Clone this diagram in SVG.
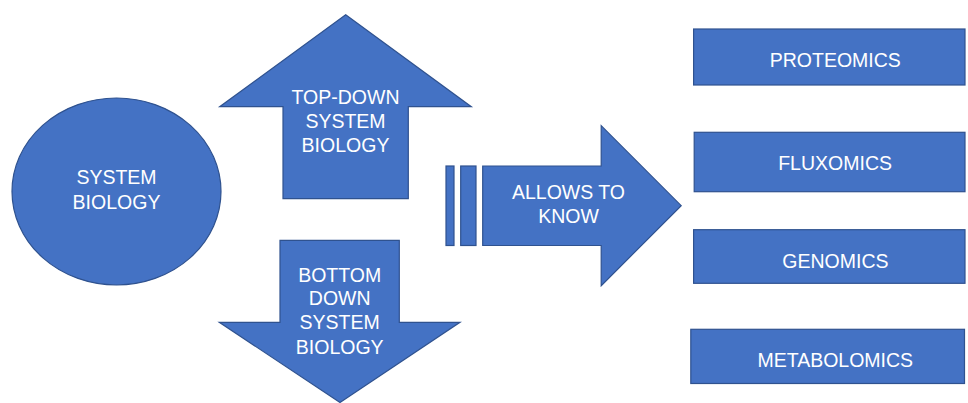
<svg xmlns="http://www.w3.org/2000/svg" width="968" height="403" viewBox="0 0 968 403">
<style>
.s{fill:#4472C4;stroke:#2F528F;stroke-width:1.2}
.t{font-family:"Liberation Sans",Arial,sans-serif;font-size:19.5px;fill:#fff;text-anchor:middle}
</style>
<rect width="968" height="403" fill="#fff"/>
<g id="connectors"></g>
<g id="system-biology">
<ellipse class="s" cx="116.5" cy="191.5" rx="104.5" ry="93.5"/>
<text class="t" x="116.5" y="184.3">SYSTEM</text>
<text class="t" x="116.5" y="209">BIOLOGY</text>
</g>
<g id="top-down">
<polygon class="s" points="345.7,14.7 471.3,106.7 408.3,106.7 408.3,198.7 283,198.7 283,106.7 219.7,106.7"/>
<text class="t" x="345.5" y="104.3">TOP-DOWN</text>
<text class="t" x="345.5" y="128.3">SYSTEM</text>
<text class="t" x="345.5" y="152.3">BIOLOGY</text>
</g>
<g id="bottom-down">
<polygon class="s" points="280,240.3 399.3,240.3 399.3,322.3 460,322.3 340,402.5 219.3,322.3 280,322.3"/>
<text class="t" x="339.7" y="281.7">BOTTOM</text>
<text class="t" x="339.7" y="305">DOWN</text>
<text class="t" x="339.7" y="329.3">SYSTEM</text>
<text class="t" x="339.7" y="354">BIOLOGY</text>
</g>
<g id="allows-to-know">
<rect class="s" x="446" y="166" width="8" height="79.5"/>
<rect class="s" x="460.7" y="166" width="15.3" height="79.5"/>
<polygon class="s" points="482.7,166 601.2,166 601.2,125.7 681.2,205.7 601.2,285.7 601.2,245.5 482.7,245.5"/>
<text class="t" x="568.5" y="199.3">ALLOWS TO</text>
<text class="t" x="568.5" y="222.7">KNOW</text>
</g>
<g id="proteomics">
<rect class="s" x="693.6" y="29" width="271.4" height="56"/>
<text class="t" x="835.3" y="66.7">PROTEOMICS</text>
</g>
<g id="fluxomics">
<rect class="s" x="694.2" y="132.3" width="270.8" height="59.4"/>
<text class="t" x="835.1" y="170">FLUXOMICS</text>
</g>
<g id="genomics">
<rect class="s" x="693.6" y="229.7" width="271.4" height="53.6"/>
<text class="t" x="835.4" y="267.7">GENOMICS</text>
</g>
<g id="metabolomics">
<rect class="s" x="690.8" y="329.3" width="273.7" height="54.2"/>
<text class="t" x="835.3" y="366.7">METABOLOMICS</text>
</g>
</svg>
